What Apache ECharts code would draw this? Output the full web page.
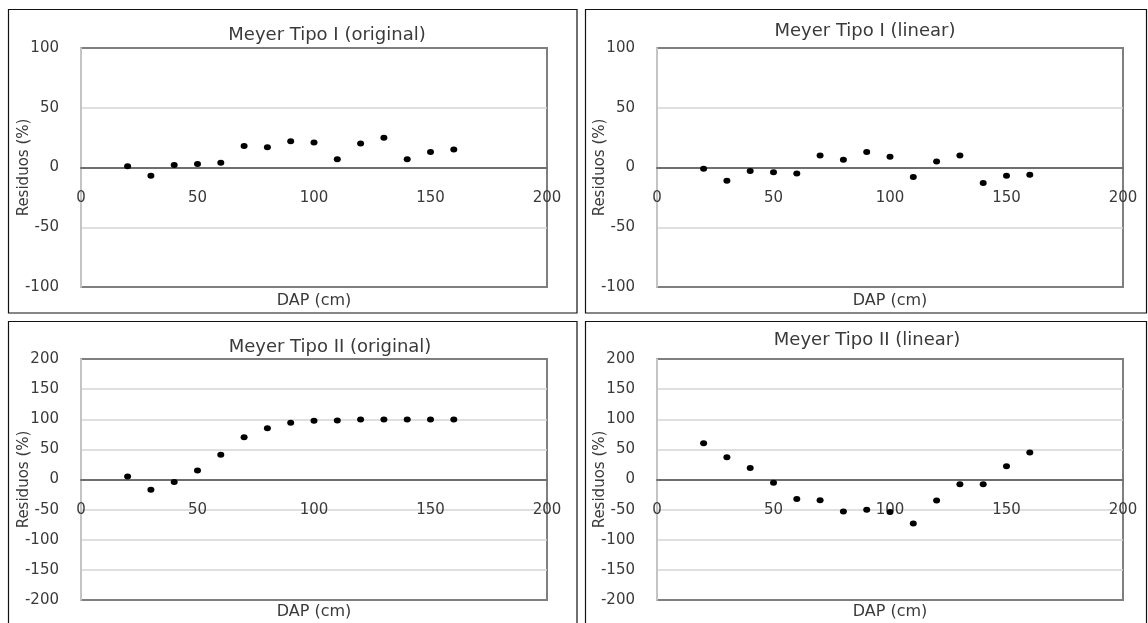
<!DOCTYPE html>
<html>
<head>
<meta charset="utf-8">
<script src="https://cdn.jsdelivr.net/npm/echarts@6/dist/echarts.min.js"></script>
<style>
html,body{margin:0;padding:0;background:#fff;}
#chart{width:1148px;height:623px;}
</style>
</head>
<body>
<div id="chart"></div>
<script>
// ---- data ----
const dap = [20, 30, 40, 50, 60, 70, 80, 90, 100, 110, 120, 130, 140, 150, 160];
const meyerIOriginal = [1, -7, 2, 3, 4, 18, 17, 22, 21, 7, 20, 25, 7, 13, 15];
const meyerILinear = [-1, -11, -3, -4, -5, 10, 6.5, 13, 9, -8, 5, 10, -13, -7, -6];
const meyerIIOriginal = [5, -17, -4, 15, 41, 70, 85, 94, 97.5, 98, 99.5, 99.5, 99.5, 99.5, 99.5];
const meyerIILinear = [60, 37, 19, -5.5, -32.5, -34.5, -53, -50, -54, -73, -35, -8, -8, 22, 45];

const panelTitles = ['Meyer Tipo I (original)', 'Meyer Tipo I (linear)', 'Meyer Tipo II (original)', 'Meyer Tipo II (linear)'];
const xRange = [0, 200, 50];
const yRangeTipoI = [-100, 100, 50];
const yRangeTipoII = [-200, 200, 50];
const xName = 'DAP (cm)';
const yName = 'Residuos (%)';

// ---- layout ----
const FONT = 'DejaVu Sans';
const TXT = '#3a3a3a';
const grids = [
  {left: 81, top: 48, width: 466, height: 239},
  {left: 657, top: 48, width: 466, height: 239},
  {left: 81, top: 359, width: 466, height: 241},
  {left: 657, top: 359, width: 466, height: 241}
];
const titlePos = [[327, 35], [865, 31], [330, 347], [867, 340]];
const xNameGap = [6, 6, 4, 4];
const xLabelMargin = [-96, -96, -97, -97];
const seriesData = [meyerIOriginal, meyerILinear, meyerIIOriginal, meyerIILinear];
const yRanges = [yRangeTipoI, yRangeTipoI, yRangeTipoII, yRangeTipoII];

const option = {
  backgroundColor: '#fff',
  animation: false,
  title: panelTitles.map((t, i) => ({
    text: t, left: titlePos[i][0], top: titlePos[i][1], padding: 0,
    textAlign: 'center', textVerticalAlign: 'middle',
    textStyle: {fontFamily: FONT, fontSize: 18, fontWeight: 'normal', color: TXT}
  })),
  grid: grids.map(g => Object.assign({
    show: true, borderColor: '#7f7f7f', borderWidth: 2, backgroundColor: 'transparent',
    containLabel: false, outerBoundsMode: 'none'
  }, g)),
  xAxis: grids.map((g, i) => ({
    type: 'value', gridIndex: i, min: xRange[0], max: xRange[1], interval: xRange[2],
    name: xName, nameLocation: 'middle', nameGap: xNameGap[i], nameMoveOverlap: false,
    nameTextStyle: {fontFamily: FONT, fontSize: 16, color: TXT},
    axisLine: {onZero: true, lineStyle: {color: '#6e6e6e', width: 2}},
    axisTick: {show: false},
    axisLabel: {fontFamily: FONT, fontSize: 15, color: TXT, margin: xLabelMargin[i], showMinLabel: true, showMaxLabel: true, hideOverlap: false},
    splitLine: {show: false}
  })),
  yAxis: grids.map((g, i) => ({
    type: 'value', gridIndex: i, min: yRanges[i][0], max: yRanges[i][1], interval: yRanges[i][2],
    name: yName, nameLocation: 'middle', nameGap: 49, nameRotate: 90, nameMoveOverlap: false,
    nameTextStyle: {fontFamily: FONT, fontSize: 15, color: TXT},
    axisLine: {show: true, onZero: false, lineStyle: {color: '#c4c4c4', width: 2}},
    axisTick: {show: false},
    axisLabel: {fontFamily: FONT, fontSize: 15, color: TXT, margin: 22},
    splitLine: {show: true, showMinLine: false, showMaxLine: false, lineStyle: {color: '#d4d4d4', width: 1.5}}
  })),
  series: seriesData.map((d, i) => ({
    type: 'scatter', xAxisIndex: i, yAxisIndex: i,
    data: dap.map((x, k) => [x, d[k]]),
    symbol: 'circle', symbolSize: [7, 6],
    itemStyle: {color: '#000', opacity: 1}
  })),
  graphic: [
    {type: 'rect', shape: {x: 8.5, y: 9.5, width: 568.5, height: 303.5}, style: {fill: 'none', stroke: '#111', lineWidth: 1.2}, silent: true},
    {type: 'rect', shape: {x: 585.5, y: 9.5, width: 561, height: 303.5}, style: {fill: 'none', stroke: '#111', lineWidth: 1.2}, silent: true},
    {type: 'rect', shape: {x: 8.5, y: 321.5, width: 568.5, height: 310}, style: {fill: 'none', stroke: '#111', lineWidth: 1.2}, silent: true},
    {type: 'rect', shape: {x: 585.5, y: 321.5, width: 561, height: 310}, style: {fill: 'none', stroke: '#111', lineWidth: 1.2}, silent: true}
  ]
};

const chart = echarts.init(document.getElementById('chart'), null, {renderer: 'canvas'});
chart.setOption(option);
</script>
</body>
</html>
